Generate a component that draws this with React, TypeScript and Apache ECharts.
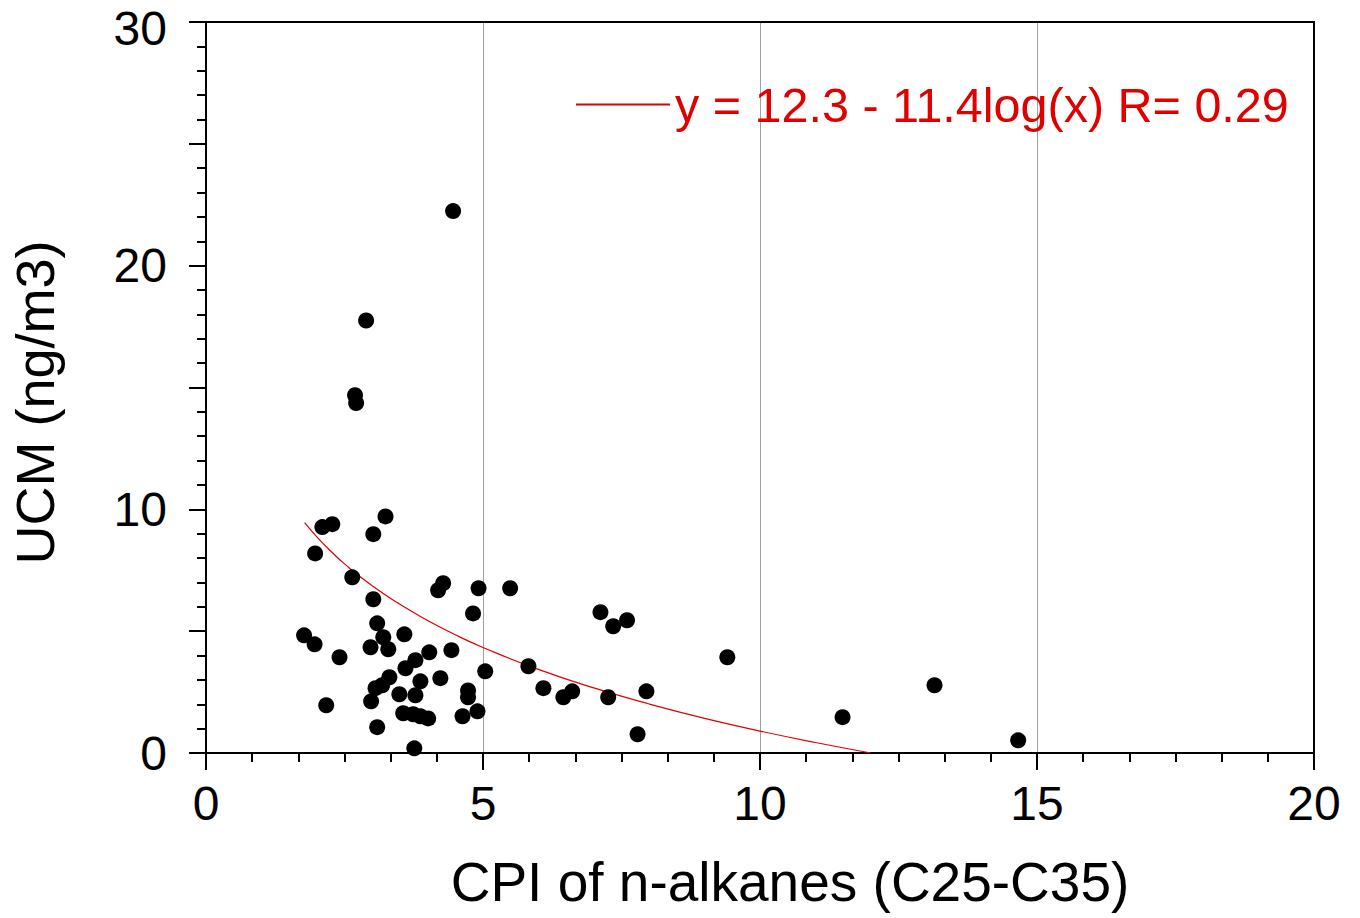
import React, { useEffect, useRef } from "react";
import * as echarts from "echarts";

// CPI of n-alkanes (x) and UCM (y) sample values
const cpiValues = [
  4.46, 2.89, 2.69, 2.71, 3.24, 2.10, 2.28, 3.02, 1.97, 2.64,
  4.28, 4.19, 4.92, 5.49, 3.02, 4.82, 7.12, 7.60, 7.35, 3.09,
  1.77, 3.58, 3.20, 1.96, 2.97, 3.29, 4.43, 4.03, 2.41, 9.41,
  3.78, 5.82, 3.60, 5.04, 3.31, 4.23, 3.87, 3.18, 3.06, 13.15,
  6.09, 6.61, 7.95, 4.73, 3.49, 3.78, 6.45, 7.26, 4.73, 2.98,
  2.17, 4.90, 3.56, 3.74, 3.87, 4.01, 4.63, 11.49, 3.09, 7.79,
  3.76, 14.66,
];
const ucmValues = [
  22.24, 17.75, 14.68, 14.36, 9.71, 9.27, 9.39, 8.98, 8.19, 7.21,
  6.97, 6.68, 6.76, 6.76, 6.31, 5.73, 5.78, 5.45, 5.20, 5.32,
  4.83, 4.87, 4.75, 4.46, 4.34, 4.26, 4.22, 4.13, 3.93, 3.93,
  3.81, 3.56, 3.48, 3.35, 3.11, 3.07, 2.94, 2.78, 2.66, 2.78,
  2.66, 2.53, 2.53, 2.57, 2.41, 2.37, 2.29, 2.29, 2.29, 2.12,
  1.96, 1.71, 1.63, 1.59, 1.51, 1.42, 1.51, 1.47, 1.06, 0.77,
  0.19, 0.52,
];

// Fitted curve points
const fitX = [1.78, 2, 2.25, 2.5, 3, 3.5, 4, 4.5, 5, 6, 7, 8, 9, 10, 11, 12];
const fitY = [9.45, 8.87, 8.29, 7.76, 6.86, 6.10, 5.44, 4.85, 4.33, 3.43, 2.67, 2.01, 1.42, 0.90, 0.43, 0.0];
const fitLabel = "y = 12.3 - 11.4log(x) R= 0.29";

const xName = "CPI of n-alkanes (C25-C35)";
const yName = "UCM (ng/m3)";
const xRange = [0, 20];
const yRange = [0, 30];
const yLabelTicks = [0, 10, 20, 30];

const FONT = "'Liberation Sans', Arial, Helvetica, sans-serif";

export default function App() {
  const ref = useRef<HTMLDivElement>(null);

  useEffect(() => {
    if (!ref.current) return;
    const chart = echarts.init(ref.current, undefined, { renderer: "svg" });
    const scatterData = cpiValues.map((x, i) => [x, ucmValues[i]]);
    const fitData = fitX.map((x, i) => [x, fitY[i]]);

    chart.setOption({
      animation: false,
      backgroundColor: "#ffffff",
      grid: {
        left: 206,
        right: 46,
        top: 22,
        bottom: 165,
        containLabel: false,
        outerBoundsMode: "none",
      },
      legend: {
        show: true,
        left: 576,
        top: 80,
        padding: 0,
        itemWidth: 94,
        itemHeight: 2,
        data: [{ name: fitLabel, icon: "rect" }],
        textStyle: { color: "#e00000", fontSize: 48.5, fontFamily: FONT },
      },
      xAxis: [
        {
          type: "value",
          min: xRange[0],
          max: xRange[1],
          interval: 5,
          name: xName,
          nameLocation: "middle",
          nameGap: 101,
          nameMoveOverlap: false,
          nameTextStyle: { fontSize: 55, fontFamily: FONT, color: "#000", padding: [0, 0, 0, 60] },
          axisLine: { show: true, onZero: false, lineStyle: { color: "#000", width: 2 } },
          axisTick: { show: true, inside: false, length: 17, lineStyle: { color: "#000", width: 2 } },
          minorTick: { show: true, splitNumber: 6, length: 9, lineStyle: { color: "#000", width: 2 } },
          axisLabel: { show: true, margin: 26, fontSize: 48, fontFamily: FONT, color: "#000" },
          splitLine: { show: true, lineStyle: { color: "#a0a0a0", width: 1 } },
          minorSplitLine: { show: false },
        },
        {
          type: "value",
          position: "top",
          min: xRange[0],
          max: xRange[1],
          axisLine: { show: true, onZero: false, lineStyle: { color: "#000", width: 2 } },
          axisTick: { show: false },
          axisLabel: { show: false },
          splitLine: { show: false },
        },
      ],
      yAxis: [
        {
          type: "value",
          min: yRange[0],
          max: yRange[1],
          interval: 5,
          name: yName,
          nameLocation: "middle",
          nameGap: 144,
          nameRotate: 90,
          nameMoveOverlap: false,
          nameTextStyle: { fontSize: 54, fontFamily: FONT, color: "#000", padding: [0, 30, 0, 0] },
          axisLine: { show: true, onZero: false, lineStyle: { color: "#000", width: 2 } },
          axisTick: { show: true, inside: false, length: 17, lineStyle: { color: "#000", width: 2 } },
          minorTick: { show: true, splitNumber: 5, length: 9, lineStyle: { color: "#000", width: 2 } },
          axisLabel: {
            show: true,
            margin: 39,
            fontSize: 48,
            lineHeight: 40,
            fontFamily: FONT,
            color: "#000",
            formatter: (v: number) => {
              if (yLabelTicks.indexOf(v) < 0) return "";
              return v === yRange[1] ? "{top|" + v + "}" : String(v);
            },
            rich: {
              top: { fontSize: 48, lineHeight: 40, fontFamily: FONT, color: "#000", padding: [12, 0, 0, 0] },
            },
          },
          splitLine: { show: false },
        },
        {
          type: "value",
          position: "right",
          min: yRange[0],
          max: yRange[1],
          axisLine: { show: true, onZero: false, lineStyle: { color: "#000", width: 2 } },
          axisTick: { show: false },
          axisLabel: { show: false },
          splitLine: { show: false },
        },
      ],
      series: [
        {
          name: fitLabel,
          type: "line",
          xAxisIndex: 0,
          yAxisIndex: 0,
          data: fitData,
          smooth: true,
          showSymbol: false,
          symbol: "none",
          lineStyle: { color: "#e00000", width: 1.2 },
          itemStyle: { color: "#e00000" },
          z: 2,
        },
        {
          name: "UCM",
          type: "scatter",
          xAxisIndex: 0,
          yAxisIndex: 0,
          data: scatterData,
          symbol: "circle",
          symbolSize: 16,
          itemStyle: { color: "#000", opacity: 1 },
          z: 3,
        },
      ],
    });

    return () => chart.dispose();
  }, []);

  return (
    <div
      ref={ref}
      style={{ position: "fixed", left: 0, top: 0, width: 1360, height: 918, background: "#fff" }}
    />
  );
}
